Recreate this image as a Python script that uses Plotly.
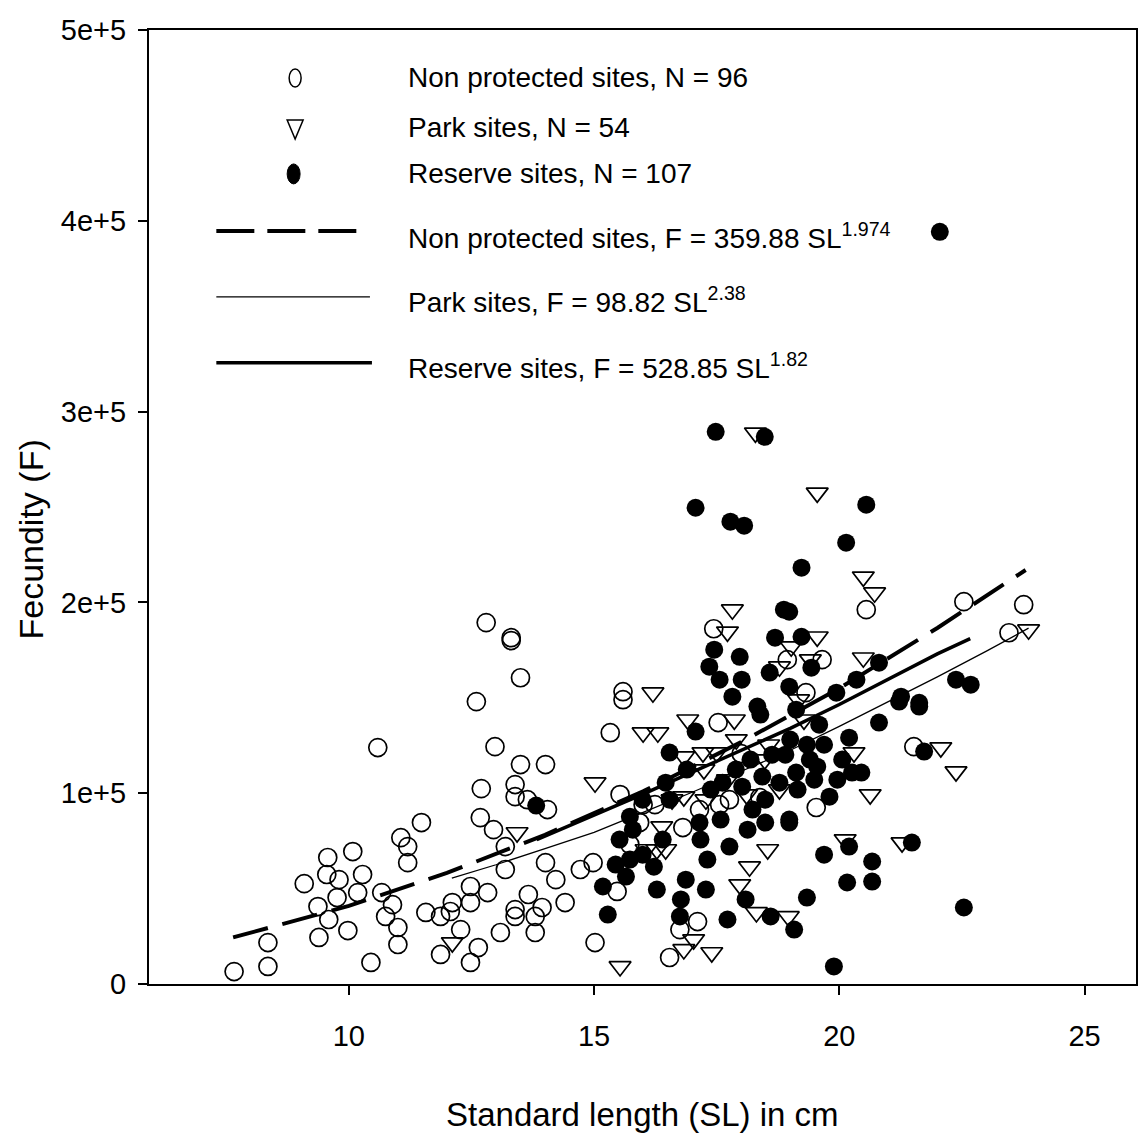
import plotly.graph_objects as go

# ---------------- data ----------------
np_sl = [7.66, 8.35, 8.35, 9.09, 9.37, 9.39, 9.57, 9.55, 9.80, 9.59, 10.08, 10.18, 9.98, 10.45,
         12.80, 13.31, 13.31, 13.50, 12.60, 10.59, 12.98, 13.50, 14.01, 13.39, 13.39, 12.70,
         13.64, 14.05, 11.48, 11.06, 11.20, 11.20, 12.68, 12.95, 13.19, 14.01, 10.67, 10.75,
         11.00, 11.00, 11.57, 11.87, 12.11, 12.07, 12.48, 12.48, 12.83, 11.87, 12.64, 12.48,
         13.09, 13.39, 13.39, 13.80, 13.94, 13.80, 14.41, 15.59, 15.33, 17.53, 15.53, 16.81,
         17.56, 14.98, 15.02, 15.47, 17.11, 16.54, 15.93, 20.55, 22.54, 23.76, 23.46, 19.65,
         19.32, 21.52, 19.53, 17.44, 15.59, 18.00, 18.38, 18.94, 16.75, 16.00, 9.76, 10.28,
         10.89, 12.28, 13.19, 13.66, 14.22, 14.72, 15.73, 16.24, 17.15, 17.76]
np_f = [6.5, 21.7, 9.2, 52.6, 40.6, 24.4, 66.3, 57.4, 54.7, 33.8, 69.4, 47.9, 28.0, 11.3,
        189.4, 181.5, 180.0, 160.5, 148.0, 123.9, 124.4, 115.0, 115.0, 104.5, 98.2, 102.4,
        96.6, 91.4, 84.6, 76.7, 72.0, 63.6, 87.2, 80.9, 72.0, 63.6, 47.9, 35.4,
        29.6, 20.7, 37.5, 35.4, 42.7, 38.0, 51.1, 42.7, 47.9, 15.5, 19.1, 11.3,
        27.0, 39.0, 35.4, 35.4, 40.1, 27.0, 42.7, 149.0, 131.7, 137.0, 99.3, 82.0,
        94.0, 63.6, 21.7, 48.5, 32.7, 13.9, 84.6, 196.2, 200.4, 198.8, 184.1, 170.0,
        152.7, 124.4, 92.5, 186.2, 153.2, 120.7, 97.7, 170.0, 28.5, 94.0, 45.3, 57.4,
        41.6, 28.5, 60.0, 46.9, 54.7, 60.0, 73.1, 94.0, 91.4, 96.6]

park_sl = [19.55, 17.82, 17.72, 20.49, 20.72, 19.55, 20.49, 23.86, 22.07, 22.38, 20.63, 20.30,
           20.12, 21.28, 18.31, 18.29, 16.20, 16.00, 16.30, 15.02, 16.83, 16.38, 16.06, 16.28,
           16.46, 17.90, 17.22, 17.50, 16.83, 18.17, 17.97, 18.54, 15.53, 16.83, 17.03, 17.40,
           18.48, 18.96, 19.02, 18.78, 13.43, 12.11, 17.24, 18.11, 18.56, 19.17, 19.41, 17.86,
           16.91, 16.59, 17.28, 17.72, 18.78, 19.28]
park_f = [257.4, 196.2, 184.6, 213.4, 205.1, 182.0, 171.0, 185.7, 123.9, 111.3, 99.3, 121.3,
          75.7, 74.1, 37.5, 288.9, 152.7, 131.7, 131.7, 105.5, 98.2, 82.5, 70.5, 70.5,
          70.5, 128.1, 121.3, 121.3, 119.2, 61.5, 52.1, 70.5, 9.2, 18.1, 23.3, 16.5,
          117.6, 35.4, 176.8, 166.3, 79.4, 21.7, 112.4, 99.3, 125.4, 149.0, 170.0, 138.5,
          138.5, 96.6, 96.6, 107.1, 101.9, 138.5]

res_sl = [22.05, 17.48, 18.48, 17.07, 17.78, 18.06, 18.87, 18.69, 17.45, 17.35, 17.97, 17.56,
          18.01, 17.82, 18.58, 18.98, 18.33, 20.55, 20.14, 19.23, 19.23, 19.43, 20.81, 20.35,
          19.94, 22.38, 22.68, 21.26, 21.63, 18.98, 17.07, 18.39, 16.54, 16.89, 16.46, 15.99,
          16.54, 15.73, 17.62, 18.02, 18.43, 18.78, 18.49, 18.49, 18.98, 17.15, 17.17, 17.76,
          15.52, 15.73, 15.65, 15.18, 16.22, 16.28, 15.28, 16.87, 17.28, 16.77, 16.75, 18.09,
          18.60, 17.58, 21.22, 21.63, 20.81, 20.20, 19.59, 19.12, 19.12, 19.55, 20.26, 20.45,
          19.80, 18.98, 21.73, 20.20, 19.69, 20.67, 20.67, 20.16, 21.48, 19.34, 22.54, 19.89,
          19.08, 13.82, 19.34, 19.40, 19.49, 18.90, 19.15, 19.69, 20.06, 19.96, 19.00, 18.63,
          18.19, 17.89, 17.38, 18.23, 18.13, 15.79, 15.99, 15.44, 16.40, 17.31, 17.72]
res_f = [394.2, 289.4, 286.8, 249.6, 242.3, 240.2, 196.2, 181.5, 175.2, 166.3, 171.5, 159.5,
         159.5, 150.6, 163.2, 155.8, 145.4, 251.2, 231.3, 218.2, 182.0, 165.8, 168.4, 159.5,
         152.7, 159.5, 156.9, 150.6, 147.4, 195.1, 132.3, 141.2, 121.3, 112.4, 105.5, 96.6,
         96.6, 87.7, 105.5, 103.4, 108.7, 105.5, 96.6, 84.6, 84.6, 84.6, 75.7, 72.0,
         75.7, 65.2, 56.3, 51.1, 61.5, 49.5, 36.4, 54.7, 49.5, 44.3, 35.4, 44.3,
         35.4, 86.2, 148.0, 145.4, 137.0, 129.1, 135.9, 143.8, 110.8, 113.9, 110.8, 110.8,
         98.2, 86.2, 121.8, 72.0, 67.8, 64.2, 53.7, 53.2, 74.1, 45.3, 40.1, 9.2,
         28.5, 93.5, 125.4, 117.6, 107.1, 120.2, 101.9, 125.4, 117.6, 107.1, 128.1, 120.2,
         117.6, 112.4, 101.9, 91.4, 80.9, 80.9, 67.8, 62.6, 75.7, 65.2, 33.8]

# fitted curves as drawn in the picture
np_fit_sl = [7.64, 10, 12, 14, 16, 18, 20, 22, 23.8]
np_fit_f = [24.4, 40.9, 58.2, 78.2, 101.0, 126.8, 155.0, 186.6, 217.0]
park_fit_sl = [12.1, 13, 14, 15, 16, 17, 18, 19, 20, 21, 22, 23, 23.86]
park_fit_f = [55.5, 62.5, 71.0, 79.5, 90.0, 100.5, 111.5, 122.5, 135.0, 148.0, 161.0, 174.5, 186.5]
res_fit_sl = [13.83, 15, 16, 17, 18, 19, 20, 21, 22, 22.67]
res_fit_f = [75.7, 88.5, 99.5, 111.0, 122.5, 134.0, 146.5, 159.5, 173.0, 181.0]

y_ticks = [0, 1e5, 2e5, 3e5, 4e5, 5e5]
y_tick_text = ["0", "1e+5", "2e+5", "3e+5", "4e+5", "5e+5"]
x_ticks = [10, 15, 20, 25]

legend_labels = ["Non protected sites, N = 96", "Park sites, N = 54", "Reserve sites, N = 107",
                 "Non protected sites, F = 359.88 SL<sup>1.974</sup>",
                 "Park sites, F = 98.82 SL<sup>2.38</sup>",
                 "Reserve sites, F = 528.85 SL<sup>1.82</sup>"]
x_title = "Standard length (SL) in cm"
y_title = "Fecundity (F)"

FONT = "Liberation Sans, Arial, sans-serif"

def k(v):
    return [x * 1000 for x in v]

fig = go.Figure()
fig.add_trace(go.Scatter(x=np_sl, y=k(np_f), mode="markers",
                         marker=dict(symbol="circle-open", size=18, color="black",
                                     line=dict(width=1.7, color="black")), showlegend=False))
fig.add_trace(go.Scatter(x=park_sl, y=k(park_f), mode="markers",
                         marker=dict(symbol="triangle-down-open", size=19, color="black",
                                     line=dict(width=1.7, color="black")), showlegend=False))
fig.add_trace(go.Scatter(x=res_sl, y=k(res_f), mode="markers",
                         marker=dict(symbol="circle", size=18, color="black",
                                     line=dict(width=0)), showlegend=False))
fig.add_trace(go.Scatter(x=np_fit_sl, y=k(np_fit_f), mode="lines",
                         line=dict(color="black", width=4, dash="36px,15px"), showlegend=False))
fig.add_trace(go.Scatter(x=park_fit_sl, y=k(park_fit_f), mode="lines",
                         line=dict(color="black", width=1.3), showlegend=False))
fig.add_trace(go.Scatter(x=res_fit_sl, y=k(res_fit_f), mode="lines",
                         line=dict(color="black", width=3.5), showlegend=False))

# ---- plot geometry (pixels) for placing the hand-drawn legend ----
L, R, T, B = 148.5, 1138.0, 30.0, 984.5
W, H = R - L, B - T

def px(x):
    return (x - L) / W

def py(y):
    return (B - y) / H

shapes = []
# legend symbols
shapes.append(dict(type="circle", xref="paper", yref="paper",
                   x0=px(289), x1=px(301), y0=py(87), y1=py(69),
                   line=dict(color="black", width=1.5)))
shapes.append(dict(type="path", xref="paper", yref="paper",
                   path=f"M {px(287)},{py(120)} L {px(303)},{py(120)} L {px(295)},{py(139)} Z",
                   line=dict(color="black", width=1.5)))
shapes.append(dict(type="circle", xref="paper", yref="paper",
                   x0=px(287), x1=px(300), y0=py(184), y1=py(164),
                   fillcolor="black", line=dict(color="black", width=1)))
shapes.append(dict(type="line", xref="paper", yref="paper",
                   x0=px(216), x1=px(358), y0=py(231), y1=py(231),
                   line=dict(color="black", width=4, dash="38px,13px")))
shapes.append(dict(type="line", xref="paper", yref="paper",
                   x0=px(216), x1=px(370), y0=py(297), y1=py(297),
                   line=dict(color="black", width=1.3)))
shapes.append(dict(type="line", xref="paper", yref="paper",
                   x0=px(216), x1=px(372), y0=py(363), y1=py(363),
                   line=dict(color="black", width=3.5)))

annotations = []
row_y = [78, 128, 174, 236, 300, 366]
for lab, yy in zip(legend_labels, row_y):
    annotations.append(dict(text=lab, xref="paper", yref="paper", x=px(406), y=py(yy),
                            xanchor="left", yanchor="middle", showarrow=False,
                            font=dict(family=FONT, size=28, color="black")))
# axis titles
annotations.append(dict(text=x_title, xref="paper", yref="paper",
                        x=px(643), y=py(1115), xanchor="center", yanchor="middle",
                        showarrow=False, font=dict(family=FONT, size=33, color="black")))
annotations.append(dict(text=y_title, xref="paper", yref="paper",
                        x=px(30), y=py(540), xanchor="center", yanchor="middle",
                        textangle=-90, showarrow=False,
                        font=dict(family=FONT, size=34, color="black")))

fig.update_layout(
    width=1140, height=1144,
    margin=dict(l=L, r=1140 - R, t=T, b=1144 - B, pad=0),
    paper_bgcolor="white", plot_bgcolor="white",
    shapes=shapes, annotations=annotations,
    showlegend=False,
)
fig.update_xaxes(range=[5.925, 26.05], tickvals=x_ticks, ticks="outside", ticklen=9,
                 tickwidth=2, tickcolor="black", showline=True, linewidth=2, linecolor="black",
                 mirror=True, showgrid=False, zeroline=False, ticklabelstandoff=16,
                 tickfont=dict(family=FONT, size=29, color="black"))
fig.update_yaxes(range=[0, 5e5], tickvals=y_ticks, ticktext=y_tick_text, ticks="outside",
                 ticklen=9, tickwidth=2, tickcolor="black", showline=True, linewidth=2,
                 linecolor="black", mirror=True, showgrid=False, zeroline=False,
                 ticklabelstandoff=6, tickfont=dict(family=FONT, size=29, color="black"))

fig.write_html("out.html")
